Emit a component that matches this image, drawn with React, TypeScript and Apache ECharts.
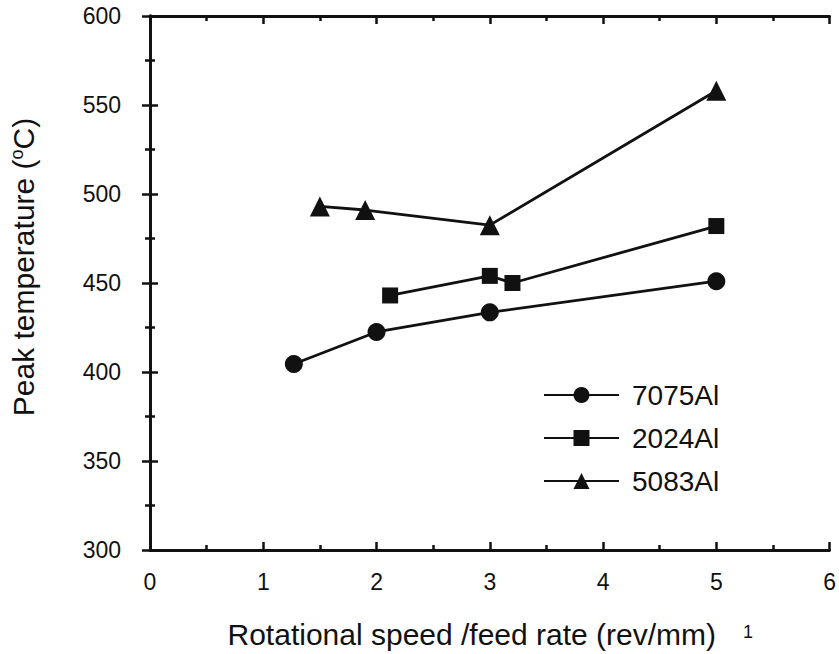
import React, { useEffect, useRef } from "react";
import * as echarts from "echarts";

const seriesNames = ["7075Al", "2024Al", "5083Al"];
const x7075 = [1.27, 2.0, 3.0, 5.0];
const y7075 = [404.5, 422.5, 433.5, 451];
const x2024 = [2.12, 3.0, 3.2, 5.0];
const y2024 = [443, 454, 450, 482];
const x5083 = [1.5, 1.9, 3.0, 5.0];
const y5083 = [493, 491, 482.5, 558];
const xTicks = [0, 1, 2, 3, 4, 5, 6];
const yTicks = [300, 350, 400, 450, 500, 550, 600];

const FONT = "Liberation Sans, Arial, sans-serif";

export default function App() {
  const ref = useRef<HTMLDivElement>(null);
  useEffect(() => {
    if (!ref.current) return;
    const chart = echarts.init(ref.current, null, { renderer: "svg" });
    const zip = (xs: number[], ys: number[]) => xs.map((x, i) => [x, ys[i]]);
    const symbols = ["circle", "rect", "triangle"];
    const sizes = [18, 16, 20];
    const data = [zip(x7075, y7075), zip(x2024, y2024), zip(x5083, y5083)];
    const axisCommon = {
      axisLine: { show: true, lineStyle: { color: "#111", width: 2.8 } },
      axisTick: { show: true, inside: true, length: 8, lineStyle: { color: "#111", width: 2.5 } },
      minorTick: { show: true, splitNumber: 2, length: 5, lineStyle: { color: "#111", width: 2.5 } },
      splitLine: { show: false },
    };
    chart.setOption({
      animation: false,
      backgroundColor: "#fff",
      grid: { left: 150, right: 3, top: 16, bottom: 102 },
      legend: {
        orient: "vertical",
        left: 538,
        top: 376,
        itemWidth: 75,
        itemHeight: 20,
        itemGap: 15,
        data: seriesNames,
        textStyle: { fontFamily: FONT, fontSize: 28, lineHeight: 26, color: "#111", padding: [0, 0, 0, 8] },
      },
      xAxis: [
        {
          type: "value",
          min: xTicks[0],
          max: xTicks[xTicks.length - 1],
          interval: 1,
          ...axisCommon,
          axisLabel: { fontFamily: FONT, fontSize: 23, color: "#111", margin: 20 },
          name: "Rotational speed /feed rate (rev/mm)",
          nameLocation: "middle",
          nameGap: 69,
          nameTextStyle: { fontFamily: FONT, fontSize: 30, color: "#111", padding: [0, 36, 0, 0] },
        },
        {
          type: "value",
          position: "top",
          min: xTicks[0],
          max: xTicks[xTicks.length - 1],
          interval: 1,
          ...axisCommon,
          axisLabel: { show: false },
        },
      ],
      yAxis: [
        {
          type: "value",
          min: yTicks[0],
          max: yTicks[yTicks.length - 1],
          interval: 50,
          ...axisCommon,
          axisLabel: { fontFamily: FONT, fontSize: 23, color: "#111", margin: 29 },
          name: "{a|Peak temperature (}{s|o}{a|C)}",
          nameLocation: "middle",
          nameGap: 112,
          nameRotate: 90,
          nameTextStyle: {
            padding: [0, 0, 0, 32],
            rich: {
              a: { fontFamily: FONT, fontSize: 30, color: "#111" },
              s: { fontFamily: FONT, fontSize: 18, color: "#111", verticalAlign: "top", padding: [0, 0, 12, 0] },
            },
          },
        },
        {
          type: "value",
          position: "right",
          min: yTicks[0],
          max: yTicks[yTicks.length - 1],
          interval: 50,
          ...axisCommon,
          axisLabel: { show: false },
        },
      ],
      graphic: [
        {
          type: "text",
          left: 743,
          top: 623,
          style: { text: "1", fontFamily: FONT, fontSize: 18, fill: "#111" },
        },
      ],
      series: seriesNames.map((name, i) => ({
        name,
        type: "line",
        data: data[i],
        symbol: symbols[i],
        symbolSize: sizes[i],
        lineStyle: { color: "#111", width: 2.8 },
        itemStyle: { color: "#111" },
        emphasis: { disabled: true },
      })),
    });
    return () => chart.dispose();
  }, []);
  return (
    <div
      ref={ref}
      style={{ position: "absolute", left: 0, top: 0, width: 839, height: 654 }}
    />
  );
}
